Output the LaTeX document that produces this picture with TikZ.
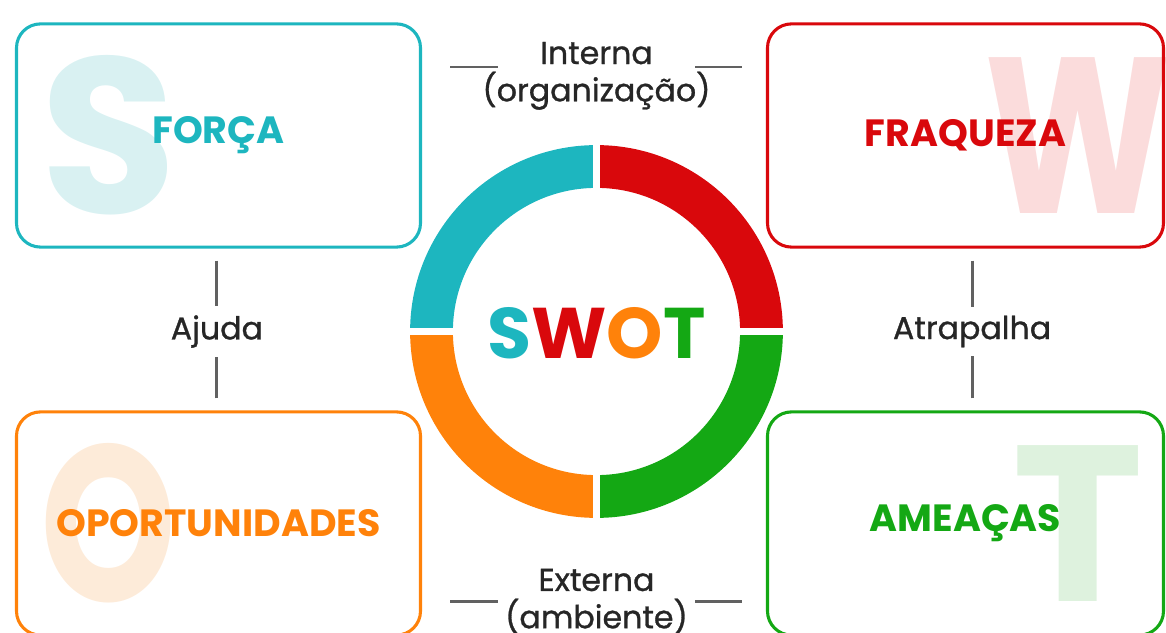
\documentclass[tikz,border=0pt]{standalone}
\usepackage{fontspec}
\setmainfont{Poppins}
\newfontfamily\lblfont{Poppins}[FakeBold=0.9]
\definecolor{cS}{HTML}{1DB6BF}
\definecolor{cW}{HTML}{D9080C}
\definecolor{cO}{HTML}{FF820A}
\definecolor{cT}{HTML}{14A814}
\definecolor{lS}{HTML}{D9F1F2}
\definecolor{lW}{HTML}{FBDCDC}
\definecolor{lO}{HTML}{FDEBD9}
\definecolor{lT}{HTML}{DEF2DE}
\tikzset{
	box/.style={rectangle, rounded corners=0.6cm, line width=2.2pt, minimum width=10.1cm, minimum height=5.58cm, font=\fontsize{27}{30}\selectfont\bfseries},
	big/.style={inner sep=0pt, font=\fontsize{158}{160}\selectfont\bfseries},
	lbl/.style={inner sep=0pt, align=center, text=black!85, font=\lblfont\fontsize{22.5}{26.5}\selectfont},
	conn/.style={draw=black!62, line width=2pt, shorten <=0.3cm, shorten >=0.22cm}
}
\begin{document}
\begin{tikzpicture}
	\path[use as bounding box, clip] (-14.9125,-7.5375) rectangle (14.2375,8.2875);
	% ring
	\fill[cS] (90:4.66) arc[start angle=90, end angle=180, radius=4.66] -- (180:3.59) arc[start angle=180, end angle=90, radius=3.59] -- cycle;
	\fill[cW] (0:4.66) arc[start angle=0, end angle=90, radius=4.66] -- (90:3.59) arc[start angle=90, end angle=0, radius=3.59] -- cycle;
	\fill[cO] (180:4.66) arc[start angle=180, end angle=270, radius=4.66] -- (270:3.59) arc[start angle=270, end angle=180, radius=3.59] -- cycle;
	\fill[cT] (270:4.66) arc[start angle=270, end angle=360, radius=4.66] -- (0:3.59) arc[start angle=0, end angle=-90, radius=3.59] -- cycle;
	\draw[white, line width=4.3pt] (-4.8,0) -- (4.8,0);
	\draw[white, line width=4.3pt] (0,-4.8) -- (0,4.8);
	\node (swot) at (0,-0.05) [inner sep=0pt, font=\fontsize{51}{53}\selectfont\bfseries]
		{\textcolor{cS}{S}\textcolor{cW}{W}\textcolor{cO}{O}\textcolor{cT}{T}};
	% big letters
	\node (bS) at (-12.19, 4.91)	[big, text=lS]	{S};
	\node (bW) at ( 12.04, 4.91)	[big, text=lW, xscale=0.8]	{W};
	\node (bO) at (-12.19,-4.79)	[big, text=lO, xscale=0.78]	{O};
	\node (bT) at ( 12.04,-4.79)	[big, text=lT]	{T};
	% boxes
	\node (S) at (-9.45, 4.9)	[box, draw=cS, text=cS]	{FORÇA};
	\node (W) at ( 9.225, 4.9)	[box, draw=cW, text=cW, minimum width=9.9cm]	{FRAQUEZA};
	\node (O) at (-9.45,-4.8)	[box, draw=cO, text=cO]	{OPORTUNIDADES};
	\node (T) at ( 9.225,-4.8)	[box, draw=cT, text=cT, minimum width=9.9cm]	{AMEAÇAS};
	% labels
	\node (In) at (0, 6.39)	[lbl]	{Interna\\(organização)};
	\node (Ex) at (0,-6.75)	[lbl]	{Externa\\(ambiente)};
	\node (Aj) at (-9.49, 0.0)	[lbl]	{Ajuda};
	\node (At) at ( 9.39, 0.0)	[lbl]	{Atrapalha};
	\coordinate (InL) at (-2.46, 6.61);
	\coordinate (InR) at ( 2.46, 6.61);
	\coordinate (ExL) at (-2.46,-6.76);
	\coordinate (ExR) at ( 2.46,-6.76);
	% connectors
	\draw[conn] (S.south -| Aj) -- (Aj);
	\draw[conn] (O.north -| Aj) -- (Aj);
	\draw[conn] (W.south -| At) -- (At);
	\draw[conn] (T.north -| At) -- (At);
	\draw[conn, shorten <=0.7cm, shorten >=0pt] (S.east |- InL) -- (InL);
	\draw[conn, shorten <=0.6cm, shorten >=0pt] (W.west |- InR) -- (InR);
	\draw[conn, shorten <=0.7cm, shorten >=0pt] (O.east |- ExL) -- (ExL);
	\draw[conn, shorten <=0.6cm, shorten >=0pt] (T.west |- ExR) -- (ExR);
\end{tikzpicture}
\end{document}
